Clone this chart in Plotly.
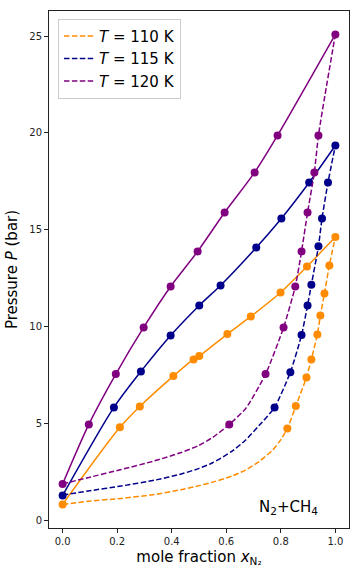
import plotly.graph_objects as go

# ---- data ----
temps = ["110", "115", "120"]
colors = ["#FF8C00", "#00008B", "#800080"]

# 110 K
bub110_x = [0.0, 0.21, 0.283, 0.406, 0.48, 0.501, 0.604, 0.69, 0.799, 0.896, 1.0]
bub110_P = [0.81, 4.79, 5.87, 7.44, 8.30, 8.47, 9.61, 10.52, 11.76, 13.10, 14.62]
dew110_x = [0.824, 0.855, 0.894, 0.912, 0.934, 0.945, 0.96, 0.978]
dew110_P = [4.73, 5.89, 7.37, 8.30, 9.59, 10.57, 11.71, 13.15]
dcurve110_x = [0.0, 0.093, 0.215, 0.337, 0.435, 0.5, 0.55, 0.62, 0.67, 0.72, 0.77, 0.795,
               0.824, 0.855, 0.894, 0.912, 0.934, 0.945, 0.96, 0.978, 1.0]
dcurve110_P = [0.81, 0.97, 1.12, 1.32, 1.57, 1.78, 1.96, 2.27, 2.58, 3.02, 3.62, 4.05,
               4.73, 5.89, 7.37, 8.30, 9.59, 10.57, 11.71, 13.15, 14.62]

# 115 K
bub115_x = [0.0, 0.188, 0.287, 0.396, 0.501, 0.579, 0.71, 0.802, 0.904, 1.0]
bub115_P = [1.27, 5.82, 7.68, 9.54, 11.09, 12.12, 14.08, 15.58, 17.44, 19.35]
dew115_x = [0.777, 0.835, 0.876, 0.898, 0.912, 0.938, 0.951, 0.973]
dew115_P = [5.82, 7.64, 9.56, 11.09, 12.16, 14.14, 15.58, 17.44]
dcurve115_x = [0.0, 0.093, 0.215, 0.337, 0.435, 0.5, 0.55, 0.62, 0.67, 0.72,
               0.777, 0.835, 0.876, 0.898, 0.912, 0.938, 0.951, 0.973, 1.0]
dcurve115_P = [1.29, 1.50, 1.76, 2.06, 2.38, 2.67, 2.96, 3.55, 4.12, 4.88,
               5.82, 7.64, 9.56, 11.09, 12.16, 14.14, 15.58, 17.44, 19.35]

# 120 K
bub120_x = [0.0, 0.096, 0.195, 0.297, 0.396, 0.495, 0.594, 0.704, 0.788, 1.0]
bub120_P = [1.86, 4.94, 7.54, 9.95, 12.07, 13.88, 15.89, 17.96, 19.87, 25.09]
dew120_x = [0.611, 0.744, 0.81, 0.853, 0.876, 0.898, 0.923, 0.938]
dew120_P = [4.94, 7.54, 9.95, 12.07, 13.88, 15.89, 17.96, 19.87]
dcurve120_x = [0.0, 0.093, 0.215, 0.337, 0.435, 0.5, 0.55, 0.611, 0.672,
               0.744, 0.81, 0.853, 0.876, 0.898, 0.923, 0.938, 1.0]
dcurve120_P = [1.87, 2.19, 2.61, 3.06, 3.49, 3.86, 4.27, 4.94, 5.78,
               7.54, 9.95, 12.07, 13.88, 15.89, 17.96, 19.87, 25.09]

bub_x = [bub110_x, bub115_x, bub120_x]
bub_P = [bub110_P, bub115_P, bub120_P]
dew_x = [dew110_x, dew115_x, dew120_x]
dew_P = [dew110_P, dew115_P, dew120_P]
dc_x = [dcurve110_x, dcurve115_x, dcurve120_x]
dc_P = [dcurve110_P, dcurve115_P, dcurve120_P]

x_ticks = [0.0, 0.2, 0.4, 0.6, 0.8, 1.0]
y_ticks = [0, 5, 10, 15, 20, 25]

FONT = "DejaVu Sans"
DASH = "5.5px,2.4px"

fig = go.Figure()
for i, T in enumerate(temps):
    c = colors[i]
    # dashed dew curve (legend entry)
    fig.add_trace(go.Scatter(x=dc_x[i], y=dc_P[i], mode="lines",
                             line=dict(color=c, width=1.5, dash=DASH, shape="spline", smoothing=0.6),
                             name=f"<i>T</i> = {T} K", showlegend=True))
    # solid bubble curve
    fig.add_trace(go.Scatter(x=bub_x[i], y=bub_P[i], mode="lines",
                             line=dict(color=c, width=1.5, shape="spline", smoothing=0.8),
                             showlegend=False))
    # markers
    fig.add_trace(go.Scatter(x=bub_x[i] + dew_x[i], y=bub_P[i] + dew_P[i], mode="markers",
                             marker=dict(color=c, size=8), showlegend=False))

fig.add_annotation(x=0.827, y=0.67, xref="x", yref="y",
                   text="N<sub>2</sub>+CH<sub>4</sub>", showarrow=False,
                   font=dict(family=FONT, size=15, color="black"))

axis_common = dict(showline=True, linecolor="#222", linewidth=1, mirror=True,
                   ticks="outside", ticklen=4, tickcolor="#222", showgrid=False,
                   zeroline=False, automargin=False,
                   tickfont=dict(family=FONT, size=10, color="#222"))

fig.update_xaxes(range=[-0.05, 1.05], tickvals=x_ticks, tickformat=".1f",
                 title=dict(text="mole fraction <i>x</i><sub>N₂</sub>",
                            font=dict(family=FONT, size=15, color="black"), standoff=5),
                 **axis_common)
fig.update_yaxes(range=[-0.41, 26.3], tickvals=y_ticks,
                 title=dict(text="Pressure <i>P</i> (bar)",
                            font=dict(family=FONT, size=15, color="black"), standoff=8),
                 **axis_common)

fig.update_layout(
    width=360, height=576,
    margin=dict(l=49, r=11, t=11, b=48),
    plot_bgcolor="white", paper_bgcolor="white",
    font=dict(family=FONT),
    legend=dict(x=0.03, y=0.985, xanchor="left", yanchor="top",
                bgcolor="white", bordercolor="#ccc", borderwidth=1,
                font=dict(family=FONT, size=15, color="black"),
                itemwidth=30, tracegroupgap=0),
)

fig.write_html("out.html", config={"displayModeBar": False},
               post_script="document.body.style.margin='0px';document.body.style.overflow='hidden';")
